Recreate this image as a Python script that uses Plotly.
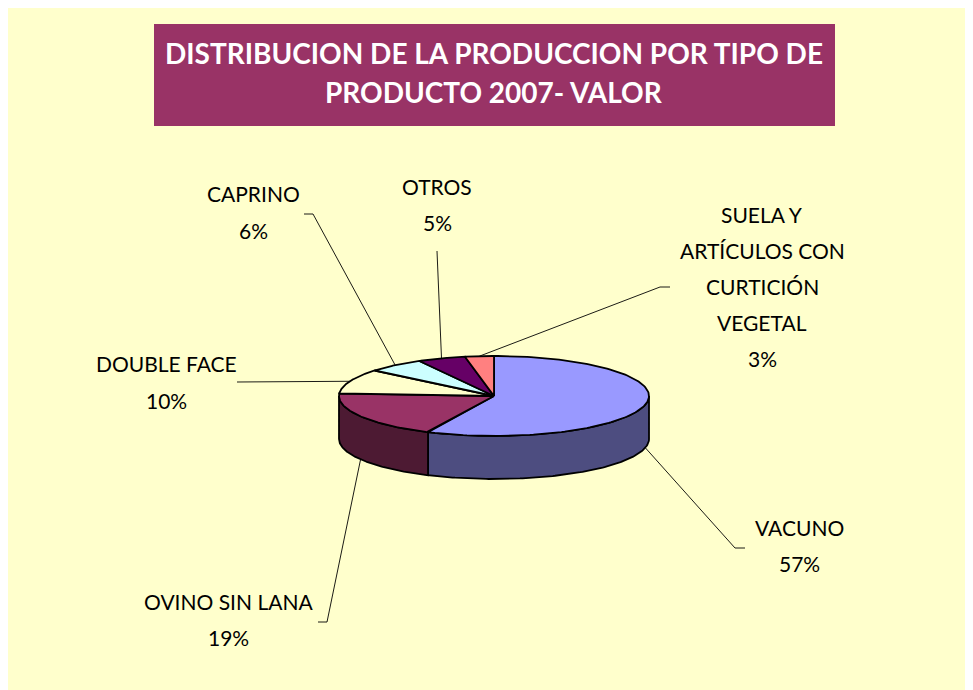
import numpy as np
import plotly.graph_objects as go

# ---------------- data ----------------
categories = ["VACUNO", "OVINO SIN LANA", "DOUBLE FACE", "CAPRINO", "OTROS",
              "SUELA Y ARTÍCULOS CON CURTICIÓN VEGETAL"]
values = [57, 19, 10, 6, 5, 3]
label_lines = [["VACUNO"], ["OVINO SIN LANA"], ["DOUBLE FACE"], ["CAPRINO"], ["OTROS"],
               ["SUELA Y", "ARTÍCULOS CON", "CURTICIÓN", "VEGETAL"]]
title_lines = ["DISTRIBUCION DE LA PRODUCCION POR TIPO DE", "PRODUCTO 2007- VALOR"]

# ---------------- styles ----------------
top_colors = ["#9999FF", "#993366", "#FFFFCC", "#CCFFFF", "#660066", "#FF8080"]
side_colors = ["#4D4D80", "#4D1A33", "#80806A", "#6A8080", "#330033", "#804040"]
FONT = "Lato"
# page body has an 8px margin; axes are set up in page-pixel coordinates
OFF = 8
PAGE_W, PAGE_H = 973, 690
W, H = PAGE_W - OFF, PAGE_H - OFF
CX, CY, RX, RY, DEPTH = 494, 396, 155, 40, 43

# label layout: centre x, first line y, line step, leader elbow, leader end
label_pos = [
    dict(x=799, y=527, step=36, elbow=(735, 548), end=(745, 548)),
    dict(x=228, y=601, step=36, elbow=(327, 622), end=(318, 622)),
    dict(x=166, y=363, step=37, elbow=None, end=(237, 382)),
    dict(x=253, y=193, step=37, elbow=(313, 214), end=(304, 214)),
    dict(x=437, y=186, step=36, elbow=None, end=(437, 251)),
    dict(x=762, y=214, step=36, elbow=(660, 287), end=(670, 287)),
]


def pt(theta, dz=0.0):
    t = np.radians(theta)
    return CX + RX * np.sin(t), CY - RY * np.cos(t) + dz


total = float(sum(values))
angles = np.concatenate([[0], np.cumsum(values) / total * 360.0])

fig = go.Figure()

# side faces (front half only)
for i, v in enumerate(values):
    a, b = max(angles[i], 90.0), min(angles[i + 1], 270.0)
    if a >= b:
        continue
    th = np.linspace(a, b, 120)
    xt, yt = pt(th)
    xb, yb = pt(th[::-1], DEPTH)
    xs = np.concatenate([xt, xb, xt[:1]])
    ys = np.concatenate([yt, yb, yt[:1]])
    fig.add_trace(go.Scatter(x=xs, y=ys, mode="lines", fill="toself",
                             fillcolor=side_colors[i],
                             line=dict(color="black", width=1.8),
                             hoverinfo="skip", showlegend=False))

# top faces
for i, v in enumerate(values):
    th = np.linspace(angles[i], angles[i + 1], 150)
    xt, yt = pt(th)
    xs = np.concatenate([[CX], xt, [CX]])
    ys = np.concatenate([[CY], yt, [CY]])
    fig.add_trace(go.Scatter(x=xs, y=ys, mode="lines", fill="toself",
                             fillcolor=top_colors[i],
                             line=dict(color="black", width=1.8),
                             name=categories[i],
                             hovertemplate=f"{categories[i]}: {v/total*100:.0f}%<extra></extra>",
                             showlegend=False))

# leader lines and labels
annotations = []
for i, v in enumerate(values):
    mid = (angles[i] + angles[i + 1]) / 2.0
    dz = DEPTH if 90 < mid < 270 else 0.0
    ax, ay = pt(mid, dz)
    lp = label_pos[i]
    xs, ys = [ax], [ay]
    if lp["elbow"] is not None:
        xs.append(lp["elbow"][0]); ys.append(lp["elbow"][1])
    xs.append(lp["end"][0]); ys.append(lp["end"][1])
    fig.add_trace(go.Scatter(x=xs, y=ys, mode="lines",
                             line=dict(color="black", width=0.9),
                             hoverinfo="skip", showlegend=False))
    lines = label_lines[i] + [f"{v/total*100:.0f}%"]
    for k, txt in enumerate(lines):
        annotations.append(dict(x=lp["x"], y=lp["y"] + k * lp["step"], xref="x", yref="y",
                                text=txt, showarrow=False, xanchor="center", yanchor="middle",
                                font=dict(family=FONT, size=21, color="black")))

for k, txt in enumerate(title_lines):
    annotations.append(dict(x=494, y=53 + k * 39, xref="x", yref="y",
                            text=f"<b>{txt}</b>", showarrow=False,
                            xanchor="center", yanchor="middle",
                            font=dict(family=FONT, size=28, color="white")))

shapes = [
    dict(type="rect", xref="x", yref="y", x0=154, y0=24, x1=835, y1=126,
         fillcolor="#993366", line=dict(width=0), layer="below"),
]

fig.update_layout(
    width=W, height=H,
    margin=dict(l=0, r=0, t=0, b=0),
    paper_bgcolor="#FFFFCC", plot_bgcolor="rgba(0,0,0,0)",
    xaxis=dict(range=[OFF, PAGE_W], visible=False, fixedrange=True),
    yaxis=dict(range=[PAGE_H, OFF], visible=False, fixedrange=True),
    shapes=shapes, annotations=annotations,
    showlegend=False,
)

fig.write_html("out.html")
